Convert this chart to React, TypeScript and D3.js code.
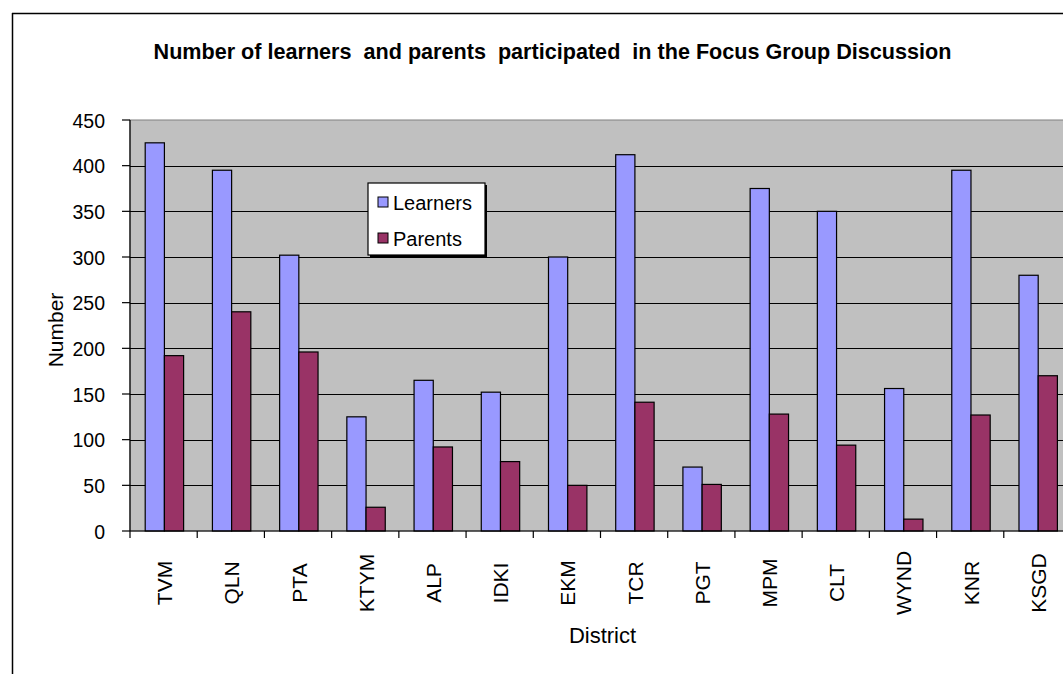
import React from "react";
import * as d3 from "d3";

const districts = ["TVM","QLN","PTA","KTYM","ALP","IDKI","EKM","TCR","PGT","MPM","CLT","WYND","KNR","KSGD"];
const learners = [425,395,302,125,165,152,300,412,70,375,350,156,395,280];
const parents = [192,240,196,26,92,76,50,141,51,128,94,13,127,170];
const yTicks = [0,50,100,150,200,250,300,350,400,450];
const seriesNames = ["Learners","Parents"];
const seriesColors = ["#9999FF","#993366"];
const title = "Number of learners  and parents  participated  in the Focus Group Discussion";

const W = 1063, H = 674;
const FONT = "'Liberation Sans', Arial, sans-serif";

export default function App() {
  const left = 130, right = 1071, top = 120, bottom = 531;
  const x = d3.scaleBand<string>().domain(districts).range([left, right]);
  const y = d3.scaleLinear().domain([0, 450]).range([bottom, top]);
  const bw = x.bandwidth() / 3.5;
  const series = [learners, parents];

  return (
    <svg width={W} height={H} style={{ position: "absolute", left: 0, top: 0, background: "#fff" }} fontFamily={FONT}>
      {/* outer chart border */}
      <line x1={12.5} y1={13} x2={12.5} y2={H} stroke="#000" strokeWidth={1.5} />
      <line x1={12} y1={13.5} x2={W} y2={13.5} stroke="#000" strokeWidth={1.5} />
      <text x={552.5} y={58.5} textAnchor="middle" fontSize={21.6} fontWeight="bold" fill="#000" style={{ whiteSpace: "pre" }}>
        {title}
      </text>
      {/* plot area */}
      <rect x={left} y={top} width={right - left} height={bottom - top} fill="#C0C0C0" stroke="#808080" strokeWidth={1} />
      {yTicks.filter(t => t > 0 && t < 450).map(t => (
        <line key={t} x1={left} x2={right} y1={Math.round(y(t)) + 0.5} y2={Math.round(y(t)) + 0.5} stroke="#000" strokeWidth={1} />
      ))}
      {/* bars */}
      {districts.map((d, i) => (
        <g key={d}>
          {series.map((s, k) => (
            <rect key={k}
              x={(x(d) as number) + 0.75 * bw + 0.8 + k * bw}
              y={y(s[i])}
              width={bw}
              height={bottom - y(s[i])}
              fill={seriesColors[k]}
              stroke="#000"
              strokeWidth={1.2}
            />
          ))}
        </g>
      ))}
      {/* y axis */}
      <line x1={left} x2={left} y1={top} y2={bottom} stroke="#000" strokeWidth={1.2} />
      {yTicks.map(t => (
        <g key={t}>
          <line x1={left - 8} x2={left} y1={y(t)} y2={y(t)} stroke="#000" strokeWidth={1.2} />
          <text x={105} y={y(t) + 1} dy="0.35em" textAnchor="end" fontSize={19.5} fill="#000">{t}</text>
        </g>
      ))}
      {/* x axis */}
      <line x1={left} x2={right} y1={bottom} y2={bottom} stroke="#000" strokeWidth={1.2} />
      {districts.map(d => (
        <line key={"t" + d} x1={(x(d) as number)} x2={(x(d) as number)} y1={bottom} y2={bottom + 7} stroke="#000" strokeWidth={1.2} />
      ))}
      {districts.map(d => {
        const cx = (x(d) as number) + x.bandwidth() / 2;
        return (
          <text key={"l" + d} transform={`translate(${cx + 8.5},583) rotate(-90)`} textAnchor="middle" fontSize={21} fill="#000">{d}</text>
        );
      })}
      <text x={602.5} y={643} textAnchor="middle" fontSize={22} fill="#000">District</text>
      <text transform={`translate(63,330) rotate(-90)`} textAnchor="middle" fontSize={21} fill="#000">Number</text>
      {/* legend */}
      <rect x={370} y={185} width={117} height={72} fill="#000" />
      <rect x={368} y={183} width={117} height={72} fill="#fff" stroke="#000" strokeWidth={1.2} />
      {seriesNames.map((n, k) => (
        <g key={n}>
          <rect x={378} y={k === 0 ? 197 : 233} width={10} height={10} fill={seriesColors[k]} stroke="#000" strokeWidth={1} />
          <text x={393} y={k === 0 ? 210 : 246} fontSize={20} fill="#000">{n}</text>
        </g>
      ))}
    </svg>
  );
}
